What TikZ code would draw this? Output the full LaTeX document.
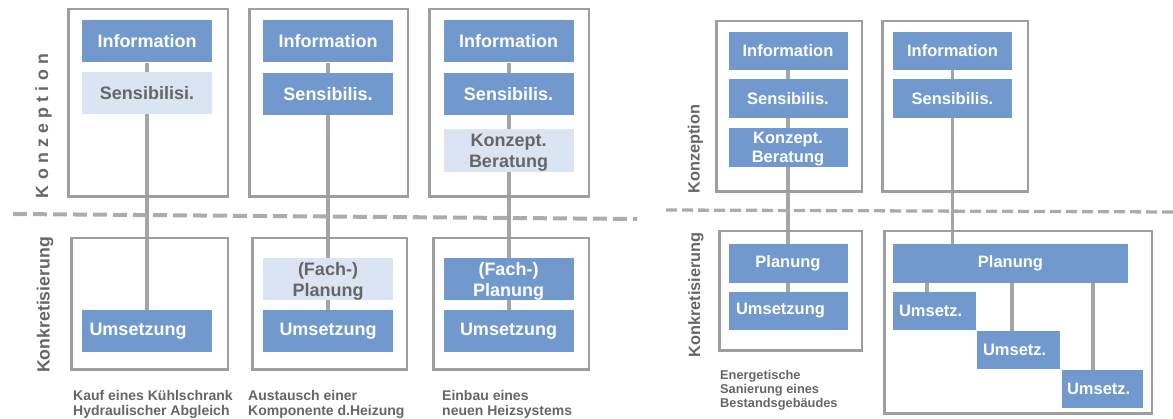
\documentclass[tikz,border=0pt]{standalone}
\usepackage{fontspec}
\setmainfont{Liberation Sans}
\usetikzlibrary{backgrounds}
\definecolor{myblue}{RGB}{113,153,206}
\definecolor{mylight}{RGB}{219,228,242}
\definecolor{myframe}{RGB}{158,158,158}
\definecolor{myline}{RGB}{165,165,165}
\definecolor{mydash}{RGB}{172,172,172}
\definecolor{mytext}{RGB}{102,102,102}

\begin{document}
\begin{tikzpicture}[
  x=1pt, y=-1pt,
  frame/.style={draw=myframe, line width=2.5pt, inner sep=0pt},
  blk/.style={fill=myblue, text=white, inner sep=0pt, align=center},
  pale/.style={fill=mylight, text=mytext, inner sep=0pt, align=center},
  big/.style={minimum width=130pt, minimum height=42pt,
    font=\bfseries\fontsize{18}{21}\selectfont},
  small/.style={minimum width=119pt, minimum height=38.5pt,
    font=\bfseries\fontsize{16.5}{19}\selectfont},
  two/.style={text depth=0pt},
  lft/.style={align=left, inner xsep=7pt, text width=#1},
  link/.style={draw=myline, line width=4pt},
  thin link/.style={draw=myline, line width=3.3pt},
  cut/.style={draw=mydash, line width=4pt, dash pattern=on 14pt off 6pt},
  side/.style={text=mytext, rotate=90, anchor=base, inner sep=0pt},
  note/.style={text=mytext, align=left, anchor=north west, inner sep=0pt}
]
\useasboundingbox (0,0) rectangle (1173,419);

% frames, upper and lower row
\node[frame, minimum width=159.5pt, minimum height=187.5pt] (kA) at (148,103) {};
\node[frame, minimum width=158.5pt, minimum height=187.5pt] (kB) at (328.5,103) {};
\node[frame, minimum width=159.5pt, minimum height=187.5pt] (kC) at (509,103) {};
\node[frame, minimum width=156.5pt, minimum height=131.5pt] (rA) at (149.5,304) {};
\node[frame, minimum width=154.5pt, minimum height=131.5pt] (rB) at (329.5,304) {};
\node[frame, minimum width=155.5pt, minimum height=131.5pt] (rC) at (511,304) {};
\node[frame, minimum width=145.5pt, minimum height=170.5pt] (kD) at (789,106.5) {};
\node[frame, minimum width=145.5pt, minimum height=170.5pt] (kE) at (955,106.5) {};
\node[frame, minimum width=142.5pt, minimum height=119.5pt] (rD) at (790.5,291) {};
\node[frame, minimum width=267.5pt, minimum height=182.5pt] (rE) at (1018,322.5) {};

\node[blk, big] (iA) at (147,41.5) {Information};
\node[pale, big] (sA) at (147,93) {Sensibilisi.};
\node[blk, big, lft=115pt] (uA) at (147,331) {Umsetzung};

\node[blk, big] (iB) at (328,41.5) {Information};
\node[blk, big] (sB) at (328,94) {Sensibilis.};
\node[pale, big, two] (fB) at (328,279) {(Fach-)\\Planung};
\node[blk, big] (uB) at (328,331) {Umsetzung};

\node[blk, big] (iC) at (508.5,41.5) {Information};
\node[blk, big] (sC) at (508.5,94) {Sensibilis.};
\node[pale, big, two, minimum height=43pt] (bC) at (508.5,150.5) {Konzept.\\Beratung};
\node[blk, big, two] (fC) at (508.5,279) {(Fach-)\\Planung};
\node[blk, big] (uC) at (508.5,331) {Umsetzung};

\node[blk, small] (iD) at (788,51) {Information};
\node[blk, small] (sD) at (788,98.5) {Sensibilis.};
\node[blk, small, two] (bD) at (788,147.5) {Konzept.\\Beratung};
\node[blk, small] (pD) at (788,263.5) {Planung};
\node[blk, small, lft=104pt] (uD) at (788,311) {Umsetzung};

\node[blk, small] (iE) at (952.5,51) {Information};
\node[blk, small] (sE) at (952.5,98.5) {Sensibilis.};
\node[blk, small, minimum width=235pt] (pE) at (1010.5,263.5) {Planung};
\node[blk, small, minimum width=83pt, inner xsep=6pt, text width=71pt, align=left] (vA) at (934.5,311) {Umsetz.};
\node[blk, small, minimum width=83pt, inner xsep=6pt, text width=71pt, align=left] (vB) at (1018.5,350) {Umsetz.};
\node[blk, small, minimum width=81pt, inner xsep=5pt, text width=71pt, align=left] (vC) at (1102.5,389) {Umsetz.};

\node[side, font=\bfseries\fontsize{17.7}{20}\selectfont\addfontfeature{LetterSpace=30}] (lkA) at (48,126) {Konzeption};
\node[side, font=\bfseries\fontsize{17.7}{20}\selectfont] (lrA) at (49.5,305) {Konkretisierung};
\node[side, font=\bfseries\fontsize{16.3}{18}\selectfont] (lkD) at (699.5,149) {Konzeption};
\node[side, font=\bfseries\fontsize{16.3}{18}\selectfont] (lrD) at (700,295) {Konkretisierung};

\node[note, font=\bfseries\fontsize{14}{15.3}\selectfont] (cA) at (73,390)
  {Kauf eines Kühlschrank\\Hydraulischer Abgleich};
\node[note, font=\bfseries\fontsize{14}{15.3}\selectfont] (cB) at (248,390)
  {Austausch einer\\Komponente d.Heizung};
\node[note, font=\bfseries\fontsize{14}{15.3}\selectfont] (cC) at (442,390)
  {Einbau eines\\neuen Heizsystems};
\node[note, font=\bfseries\fontsize{12.8}{14}\selectfont] (cD) at (720,370)
  {Energetische\\Sanierung eines\\Bestandsgebäudes};

\coordinate (cutA) at (13,214);
\coordinate (cutB) at (637,219);
\coordinate (cutC) at (666,210);
\coordinate (cutD) at (1173,212);

\begin{scope}[on background layer]
\draw[link] (iA.south) -- (uA.north);
\draw[link] (iB.south) -- (uB.north);
\draw[link] (iC.south) -- (uC.north);
\draw[thin link] (iD.south) -- (uD.north);
\draw[thin link] (iE.south) -- (iE.south |- pE.north);
\draw[thin link] ([xshift=-7.5pt]vA.north) -- ([xshift=-7.5pt]vA.north |- pE.south);
\draw[thin link] ([xshift=-6.5pt]vB.north) -- ([xshift=-6.5pt]vB.north |- pE.south);
\draw[thin link] ([xshift=-9.5pt]vC.north) -- ([xshift=-9.5pt]vC.north |- pE.south);
\draw[cut] (cutA) -- (cutB);
\draw[cut, line width=3.3pt, dash pattern=on 11pt off 5pt] (cutC) -- (cutD);
\end{scope}
\end{tikzpicture}
\end{document}
